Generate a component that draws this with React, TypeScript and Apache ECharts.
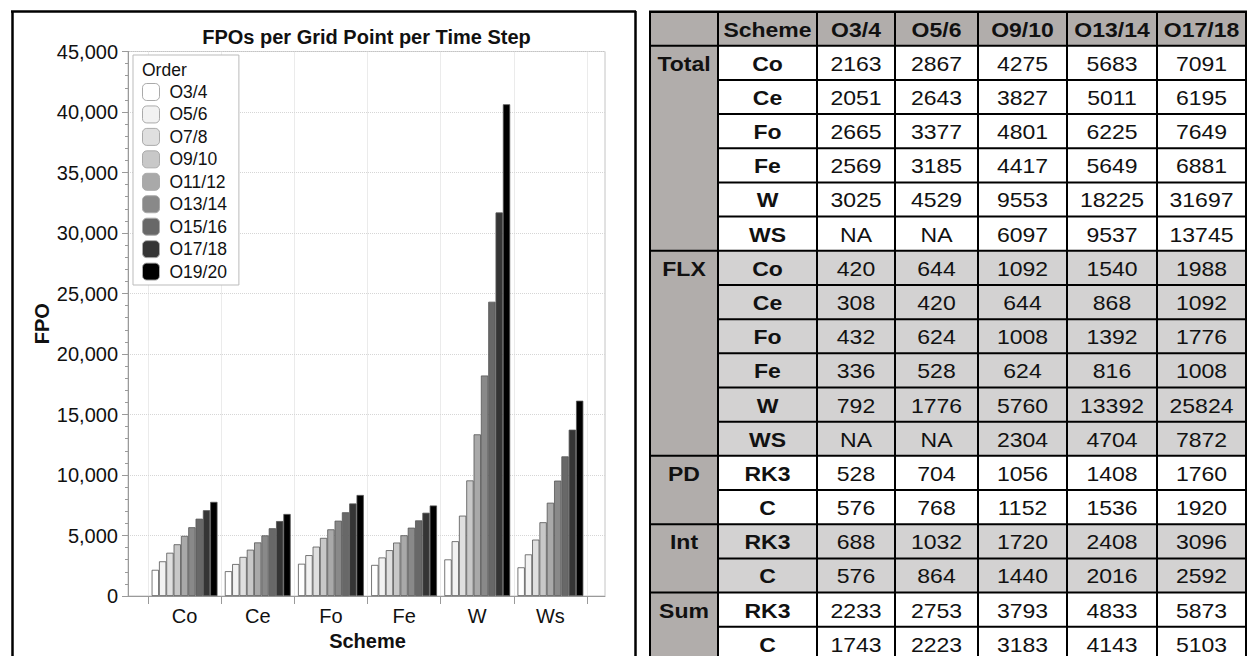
import React, { useEffect, useRef } from "react";
import * as echarts from "echarts";

// ---------- bar chart data ----------
const categories = ["Co", "Ce", "Fo", "Fe", "W", "Ws"];
const orders = ["O3/4", "O5/6", "O7/8", "O9/10", "O11/12", "O13/14", "O15/16", "O17/18", "O19/20"];
const coValues = [2163, 2867, 3575, 4275, 4970, 5683, 6390, 7091, 7780];
const ceValues = [2051, 2643, 3230, 3827, 4430, 5011, 5600, 6195, 6780];
const foValues = [2665, 3377, 4080, 4801, 5510, 6225, 6920, 7649, 8350];
const feValues = [2569, 3185, 3790, 4417, 5020, 5649, 6250, 6881, 7480];
const wValues = [3025, 4529, 6640, 9553, 13360, 18225, 24320, 31697, 40640];
const wsValues = [2370, 3440, 4660, 6097, 7710, 9537, 11540, 13745, 16140];
const yTicks = { min: 0, max: 45000, interval: 5000 };

// ---------- table data ----------
const tableHeader = ["Scheme", "O3/4", "O5/6", "O9/10", "O13/14", "O17/18"];
const groupNames = ["Total", "FLX", "PD", "Int", "Sum"];
const totalSchemes = ["Co", "Ce", "Fo", "Fe", "W", "WS"];
const totalValues = [
  ["2163", "2867", "4275", "5683", "7091"],
  ["2051", "2643", "3827", "5011", "6195"],
  ["2665", "3377", "4801", "6225", "7649"],
  ["2569", "3185", "4417", "5649", "6881"],
  ["3025", "4529", "9553", "18225", "31697"],
  ["NA", "NA", "6097", "9537", "13745"],
];
const flxSchemes = ["Co", "Ce", "Fo", "Fe", "W", "WS"];
const flxValues = [
  ["420", "644", "1092", "1540", "1988"],
  ["308", "420", "644", "868", "1092"],
  ["432", "624", "1008", "1392", "1776"],
  ["336", "528", "624", "816", "1008"],
  ["792", "1776", "5760", "13392", "25824"],
  ["NA", "NA", "2304", "4704", "7872"],
];
const pdSchemes = ["RK3", "C"];
const pdValues = [
  ["528", "704", "1056", "1408", "1760"],
  ["576", "768", "1152", "1536", "1920"],
];
const intSchemes = ["RK3", "C"];
const intValues = [
  ["688", "1032", "1720", "2408", "3096"],
  ["576", "864", "1440", "2016", "2592"],
];
const sumSchemes = ["RK3", "C"];
const sumValues = [
  ["2233", "2753", "3793", "4833", "5873"],
  ["1743", "2223", "3183", "4143", "5103"],
];

// ---------- styles ----------
const grays = ["#ffffff", "#f2f2f2", "#dfdfdf", "#c8c8c8", "#a9a9a9", "#898989", "#686868", "#353535", "#000000"];
const FONT = "'Liberation Sans', Arial, Helvetica, sans-serif";
const groupFills = ["#ffffff", "#d3d2d2", "#ffffff", "#d3d2d2", "#ffffff"];
const darkFill = "#b1adab";

function buildTable(): any[] {
  const els: any[] = [];
  const colX = [650, 718, 817, 895, 978, 1067, 1157, 1246];
  const top = 11.7;
  const headerH = 34;
  const rowH = 34.18;
  const bodyTop = top + headerH;
  const groups = [
    { schemes: totalSchemes, values: totalValues },
    { schemes: flxSchemes, values: flxValues },
    { schemes: pdSchemes, values: pdValues },
    { schemes: intSchemes, values: intValues },
    { schemes: sumSchemes, values: sumValues },
  ];
  const nRows = groups.reduce((s, g) => s + g.schemes.length, 0);
  const bottom = bodyTop + nRows * rowH;
  const left = colX[0];
  const right = colX[colX.length - 1];
  const txt = (text: string, x: number, y: number, bold: boolean) => ({
    type: "text",
    x,
    y,
    scaleX: 1.15,
    z: 20,
    style: {
      text,
      x: 0,
      y: 0,
      fontSize: 20,
      fontFamily: FONT,
      fontWeight: bold ? "bold" : "normal",
      fill: "#111",
      align: "center",
      verticalAlign: "middle",
      textAlign: "center",
      textVerticalAlign: "middle",
    },
  });
  const line = (x1: number, y1: number, x2: number, y2: number, w = 2) => ({
    type: "line",
    z: 15,
    shape: { x1, y1, x2, y2 },
    style: { stroke: "#000", lineWidth: w },
  });
  els.push({ type: "rect", z: 10, shape: { x: left, y: top, width: right - left, height: headerH }, style: { fill: darkFill } });
  els.push({ type: "rect", z: 10, shape: { x: colX[0], y: bodyTop, width: colX[1] - colX[0], height: bottom - bodyTop }, style: { fill: darkFill } });
  tableHeader.forEach((h, i) => {
    els.push(txt(h, (colX[i + 1] + colX[i + 2]) / 2, top + headerH / 2 + 1, true));
  });
  let r = 0;
  groups.forEach((g, gi) => {
    const gTop = bodyTop + r * rowH;
    els.push({
      type: "rect",
      z: 10,
      shape: { x: colX[1], y: gTop, width: right - colX[1], height: g.schemes.length * rowH },
      style: { fill: groupFills[gi] },
    });
    els.push(line(left, gTop, right, gTop, 2));
    els.push(txt(groupNames[gi], (colX[0] + colX[1]) / 2, gTop + rowH / 2 + 1, true));
    g.schemes.forEach((s, si) => {
      const y = bodyTop + (r + si) * rowH;
      if (si > 0) els.push(line(colX[1], y, right, y, 2));
      els.push(txt(s, (colX[1] + colX[2]) / 2, y + rowH / 2 + 1, true));
      g.values[si].forEach((v, vi) => {
        els.push(txt(v, (colX[vi + 2] + colX[vi + 3]) / 2, y + rowH / 2 + 1, false));
      });
    });
    r += g.schemes.length;
  });
  els.push(line(left - 1, top, right + 1, top, 2.5));
  els.push(line(left, bottom, right, bottom, 2));
  colX.forEach((x) => els.push(line(x, top, x, bottom, 2)));
  return els;
}

export default function App() {
  const ref = useRef<HTMLDivElement>(null);
  useEffect(() => {
    if (!ref.current) return;
    const chart = echarts.init(ref.current, undefined, { renderer: "svg" });
    const schemeArrays = [coValues, ceValues, foValues, feValues, wValues, wsValues];
    const axisGray = "#9a9a9a";
    const option: any = {
      animation: false,
      backgroundColor: "#ffffff",
      textStyle: { fontFamily: FONT },
      title: {
        text: "FPOs per Grid Point per Time Step",
        left: 366.5,
        top: 27,
        textAlign: "center",
        padding: 0,
        textStyle: { fontSize: 20, fontWeight: "bold", color: "#111", fontFamily: FONT },
      },
      legend: {
        orient: "vertical",
        left: 133,
        top: 55,
        padding: [28, 12, 4.4, 9],
        itemGap: 4.45,
        itemWidth: 17,
        itemHeight: 17,
        icon: "roundRect",
        backgroundColor: "#ffffff",
        borderColor: "#bbbbbb",
        borderWidth: 1,
        borderRadius: 0,
        textStyle: { fontSize: 17.5, color: "#111", fontFamily: FONT, padding: [0, 0, 0, 5] },
        itemStyle: { borderColor: "#aaaaaa", borderWidth: 1 },
        data: orders,
      },
      grid: [
        { left: 128, right: 643, top: 51.5, bottom: 60, show: true, borderColor: "#c4c4c4", borderWidth: 1, backgroundColor: "transparent" },
        { left: 148, right: 661, top: 51.5, bottom: 60 },
      ],
      xAxis: [
        {
          type: "value",
          gridIndex: 0,
          min: 0,
          max: 1,
          axisLine: { show: true, onZero: false, lineStyle: { color: axisGray } },
          axisTick: { show: false },
          axisLabel: { show: false },
          splitLine: { show: false },
        },
        {
          type: "category",
          gridIndex: 1,
          data: categories,
          axisLine: { show: false },
          axisTick: { show: true, length: 8, interval: 0, lineStyle: { color: axisGray } },
          axisLabel: { fontSize: 20, color: "#111", margin: 10, interval: 0, fontFamily: FONT },
          splitLine: { show: true, interval: 0, lineStyle: { type: "dotted", color: "#d6d6d6" } },
          name: "Scheme",
          nameLocation: "middle",
          nameGap: 35,
          nameTextStyle: { fontSize: 20, fontWeight: "bold", color: "#111", fontFamily: FONT },
        },
      ],
      yAxis: [
        {
          type: "value",
          gridIndex: 0,
          min: yTicks.min,
          max: yTicks.max,
          interval: yTicks.interval,
          axisLine: { show: true, lineStyle: { color: axisGray } },
          axisTick: { show: true, length: 6, lineStyle: { color: axisGray } },
          minorTick: { show: true, splitNumber: 5, length: 3, lineStyle: { color: axisGray } },
          axisLabel: { fontSize: 20, color: "#111", margin: 10, fontFamily: FONT },
          splitLine: { show: true, lineStyle: { type: "dotted", color: "#d6d6d6" } },
          name: "FPO",
          nameLocation: "middle",
          nameGap: 76,
          nameTextStyle: { fontSize: 20, fontWeight: "bold", color: "#111", fontFamily: FONT },
        },
        { type: "value", gridIndex: 1, min: yTicks.min, max: yTicks.max, interval: yTicks.interval, show: false },
      ],
      series: orders.map((name, i) => ({
        type: "bar",
        name,
        xAxisIndex: 1,
        yAxisIndex: 1,
        data: schemeArrays.map((a) => a[i]),
        barGap: "0%",
        barCategoryGap: "10%",
        itemStyle: { color: grays[i], borderColor: "#555555", borderWidth: 0.8 },
      })),
      graphic: [
        {
          type: "text",
          x: 142,
          y: 70,
          z: 100,
          style: {
            text: "Order",
            fontSize: 17.5,
            fontFamily: FONT,
            fill: "#111",
            align: "left",
            verticalAlign: "middle",
            textAlign: "left",
            textVerticalAlign: "middle",
          },
        },
        { type: "line", z: 50, shape: { x1: 12.5, y1: 11.5, x2: 12.5, y2: 660 }, style: { stroke: "#000", lineWidth: 2.5 } },
        { type: "line", z: 50, shape: { x1: 11, y1: 11.5, x2: 636, y2: 11.5 }, style: { stroke: "#000", lineWidth: 2.5 } },
        { type: "line", z: 50, shape: { x1: 635.5, y1: 11, x2: 635.5, y2: 660 }, style: { stroke: "#000", lineWidth: 2.5 } },
        ...buildTable(),
      ],
    };
    chart.setOption(option);
    return () => chart.dispose();
  }, []);
  return (
    <div
      ref={ref}
      style={{ position: "fixed", left: 0, top: 0, width: 1248, height: 656, background: "#fff" }}
    />
  );
}
